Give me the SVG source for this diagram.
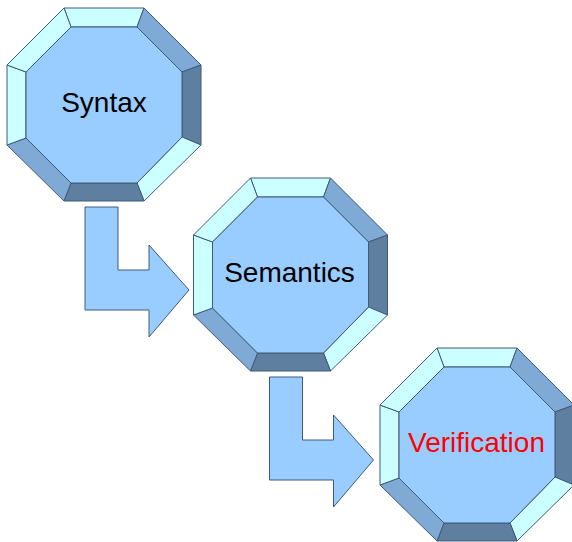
<svg xmlns="http://www.w3.org/2000/svg" width="572" height="542" viewBox="0 0 572 542">
<style>
.l{fill:#ccffff}
.m{fill:#80aad6}
.d{fill:#5f7fa0}
.f{fill:#99ccff}
polygon,path{stroke:#3f5a78;stroke-width:1;stroke-linejoin:miter}
text{font-family:"Liberation Sans",Arial,sans-serif;font-size:28px;text-anchor:middle}
</style>
<defs>
<g id="oct">
<polygon class="l" points="64,8 144,8 137,27 71,27"/>
<polygon class="m" points="144,8 201,65 182,72 137,27"/>
<polygon class="d" points="201,65 201,145 182,137 182,72"/>
<polygon class="l" points="201,145 144,201 137,183 182,137"/>
<polygon class="d" points="144,201 64,201 71,183 137,183"/>
<polygon class="m" points="64,201 7,145 26,138 71,183"/>
<polygon class="l" points="7,145 7,65 26,72 26,138"/>
<polygon class="l" points="7,65 64,8 71,27 26,72"/>
<polygon class="f" points="71,27 137,27 182,72 182,137 137,183 71,183 26,138 26,72"/>
</g>
<path id="arr" class="f" d="M85,207 H118 V270 H149 V245 L189,290 L149,337 V310 H85 Z"/>
</defs>
<g id="connectors">
<use href="#arr"/>
<use href="#arr" transform="translate(184.5,170)"/>
</g>
<g id="syntax">
<use href="#oct"/>
<text x="104" y="112">Syntax</text>
</g>
<g id="semantics" transform="translate(186.5,170)">
<use href="#oct"/>
<text x="103" y="112">Semantics</text>
</g>
<g id="verification" transform="translate(373,340)">
<use href="#oct"/>
<text x="103.5" y="112" fill="#ff0000">Verification</text>
</g>
</svg>
